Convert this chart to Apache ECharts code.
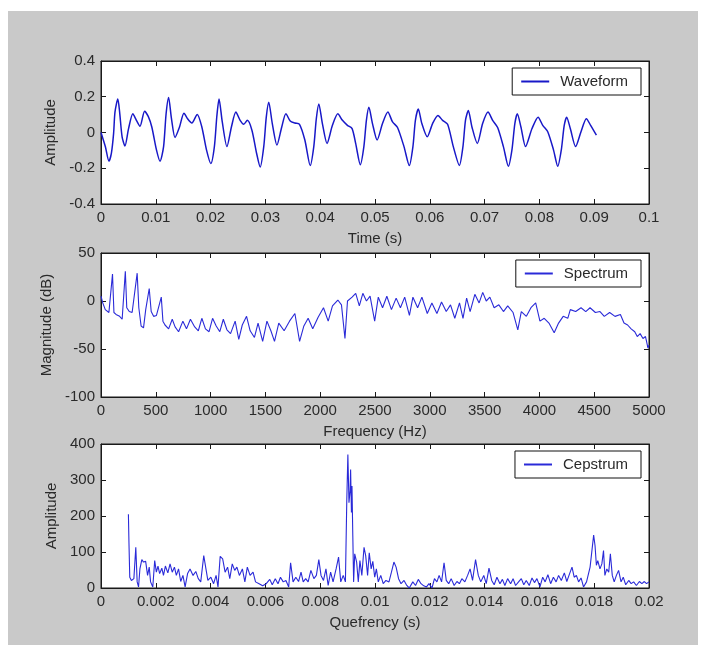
<!DOCTYPE html>
<html>
<head>
<meta charset="utf-8">
<script src="https://cdn.jsdelivr.net/npm/echarts@6/dist/echarts.min.js"></script>
<style>
  html, body { margin: 0; padding: 0; background: #ffffff; }
  #wrap { position: relative; width: 705px; height: 652px; background: #ffffff; overflow: hidden; }
  #panel { position: absolute; left: 8px; top: 11px; width: 690px; height: 634px; background: #c9c9c9; }
  #chart { position: absolute; left: 0; top: 0; width: 705px; height: 652px; }
</style>
</head>
<body>
<div id="wrap"><div id="panel"></div><div id="chart"></div></div>
<script>
// ---- Waveform (time in s, amplitude) ----
const waveTime = [
  0, 0.0008, 0.00144, 0.0019, 0.0023, 0.00255, 0.00307, 0.0034, 0.00385, 0.00437,
  0.00503, 0.00581, 0.00646, 0.00711, 0.00796, 0.00862, 0.00927, 0.01012, 0.01077, 0.01142,
  0.01188, 0.01234, 0.01286, 0.01351, 0.0143, 0.01514, 0.0158, 0.01658, 0.01756, 0.0184,
  0.01925, 0.02004, 0.02069, 0.02115, 0.02154, 0.02213, 0.02298, 0.02383, 0.02461, 0.02539,
  0.02604, 0.0267, 0.02754, 0.02839, 0.02905, 0.0297, 0.03016, 0.03061, 0.03126, 0.03211,
  0.03296, 0.03374, 0.03453, 0.03538, 0.03622, 0.0372, 0.03818, 0.03883, 0.03929, 0.03975,
  0.0404, 0.04125, 0.04223, 0.04321, 0.04406, 0.04497, 0.04582, 0.04647, 0.04732, 0.04797,
  0.04843, 0.04889, 0.04954, 0.05039, 0.05137, 0.05235, 0.0532, 0.05411, 0.05529, 0.05626,
  0.05692, 0.05737, 0.0579, 0.05855, 0.05953, 0.06051, 0.06149, 0.06233, 0.06325, 0.06429,
  0.0654, 0.06605, 0.06651, 0.06703, 0.06769, 0.06867, 0.06964, 0.07062, 0.07147, 0.07238,
  0.07343, 0.07434, 0.07499, 0.07552, 0.07597, 0.07663, 0.07747, 0.07865, 0.07976, 0.08061,
  0.08152, 0.08257, 0.08335, 0.084, 0.08453, 0.08498, 0.08564, 0.08661, 0.08759, 0.08857,
  0.08935, 0.0904
];
const waveAmp = [
  0, -0.08, -0.16, -0.115, -0.005, 0.114, 0.187, 0.114, -0.024, -0.075,
  0.022, 0.105, 0.068, 0.035, 0.119, 0.09, 0.031, -0.097, -0.161, -0.079,
  0.105, 0.196, 0.077, -0.028, 0.028, 0.108, 0.077, 0.053, 0.101, 0.031,
  -0.097, -0.174, -0.079, 0.095, 0.187, 0.059, -0.079, 0.035, 0.114, 0.068,
  0.046, 0.068, 0.013, -0.116, -0.193, -0.079, 0.086, 0.169, 0.05, -0.07,
  0.028, 0.105, 0.064, 0.053, 0.046, -0.042, -0.185, -0.079, 0.077, 0.16,
  0.05, -0.061, 0.04, 0.105, 0.068, 0.04, 0.022, -0.061, -0.18, -0.079,
  0.068, 0.141, 0.05, -0.042, 0.05, 0.114, 0.059, 0.028, -0.079, -0.185,
  -0.079, 0.068, 0.132, 0.05, -0.024, 0.05, 0.095, 0.068, 0.046, -0.079,
  -0.184, -0.079, 0.068, 0.123, 0.031, -0.061, 0.05, 0.114, 0.068, 0.028,
  -0.079, -0.189, -0.097, 0.05, 0.105, 0.031, -0.079, 0.022, 0.086, 0.04,
  0.004, -0.097, -0.189, -0.097, 0.04, 0.086, 0.022, -0.079, 0.004, 0.077,
  0.04, -0.015
];

// ---- Spectrum (frequency in Hz, magnitude in dB) ----
const specFreq = [
  0, 16, 39, 72, 105, 118, 137, 170, 193, 222,
  235, 258, 284, 330, 345, 366, 388, 408, 440, 458,
  480, 506, 550, 565, 584, 617, 650, 676, 708, 747,
  780, 816, 855, 888, 920, 953, 986, 1018, 1051, 1084,
  1116, 1149, 1182, 1224, 1257, 1289, 1328, 1361, 1400, 1433,
  1475, 1514, 1550, 1583, 1622, 1671, 1720, 1769, 1812, 1851,
  1890, 1932, 1981, 2030, 2073, 2112, 2161, 2194, 2226, 2249,
  2291, 2324, 2357, 2389, 2422, 2455, 2497, 2530, 2569, 2608,
  2650, 2693, 2732, 2771, 2814, 2846, 2889, 2928, 2977, 3019,
  3065, 3107, 3150, 3189, 3228, 3271, 3303, 3336, 3368, 3411,
  3450, 3483, 3515, 3548, 3587, 3630, 3672, 3711, 3760, 3803,
  3835, 3881, 3923, 3966, 4005, 4044, 4087, 4135, 4175, 4217,
  4259, 4282, 4331, 4380, 4423, 4462, 4511, 4553, 4592, 4641,
  4690, 4739, 4772, 4805, 4837, 4870, 4893, 4919, 4945, 4968,
  4991, 5000
];
const specDb = [
  5, -2, -9, -12, 28, -12, -14, -16, -19, 31,
  -7, -11, -12, 29, -7, -26, -28, -9, 13, -11,
  -16, -15, 4, -21, -25, -29, -19, -27, -32, -21,
  -29, -19, -27, -31, -18, -29, -32, -18, -26, -32,
  -19, -30, -34, -21, -40, -25, -16, -31, -38, -23,
  -42, -21, -31, -42, -23, -31, -21, -13, -42, -26,
  -18, -29, -17, -7, -21, -5, 1, -4, -39, 0,
  4, 8, -5, 8, 0, 5, -21, 4, -7, 5,
  -9, 3, -7, 4, -15, 4, -7, 4, -13, -2,
  -13, -1, -11, -4, -18, -2, -18, 3, -11, 7,
  -2, 9, 0, 4, -7, -4, -11, -5, -12, -30,
  -11, -16, -7, -2, -21, -18, -23, -33, -23, -16,
  -18, -9, -11, -7, -11, -7, -12, -11, -16, -12,
  -16, -14, -23, -25, -29, -32, -37, -34, -39, -37,
  -49, -46
];

// ---- Cepstrum (quefrency in s, amplitude) ----
const cepQuef = [
  0.00100, 0.00102, 0.00105, 0.00111, 0.00120, 0.00127, 0.00132, 0.00137, 0.00142, 0.00149,
  0.00155, 0.00163, 0.00170, 0.00176, 0.00181, 0.00189, 0.00196, 0.00202, 0.00208, 0.00214,
  0.00222, 0.00228, 0.00235, 0.00244, 0.00252, 0.00260, 0.00268, 0.00275, 0.00283, 0.00291,
  0.00299, 0.00307, 0.00316, 0.00325, 0.00336, 0.00346, 0.00355, 0.00364, 0.00375, 0.00383,
  0.00390, 0.00401, 0.00411, 0.00420, 0.00427, 0.00435, 0.00444, 0.00453, 0.00462, 0.00470,
  0.00479, 0.00488, 0.00496, 0.00505, 0.00516, 0.00525, 0.00534, 0.00544, 0.00555, 0.00564,
  0.00577, 0.00590, 0.00603, 0.00616, 0.00625, 0.00636, 0.00646, 0.00655, 0.00665, 0.00675,
  0.00685, 0.00692, 0.00701, 0.00711, 0.00721, 0.00730, 0.00738, 0.00747, 0.00756, 0.00766,
  0.00777, 0.00786, 0.00795, 0.00803, 0.00812, 0.00821, 0.00829, 0.00838, 0.00847, 0.00858,
  0.00867, 0.00875, 0.00884, 0.00892, 0.00897, 0.00901, 0.00905, 0.00909, 0.00911, 0.00914,
  0.00916, 0.00919, 0.00922, 0.00926, 0.00933, 0.00939, 0.00945, 0.00952, 0.00960, 0.00966,
  0.00973, 0.00979, 0.00986, 0.00992, 0.00999, 0.01005, 0.01012, 0.01021, 0.01030, 0.01040,
  0.01051, 0.01060, 0.01069, 0.01077, 0.01086, 0.01095, 0.01106, 0.01116, 0.01125, 0.01138,
  0.01148, 0.01158, 0.01168, 0.01178, 0.01188, 0.01197, 0.01208, 0.01217, 0.01226, 0.01234,
  0.01243, 0.01252, 0.01260, 0.01269, 0.01278, 0.01289, 0.01299, 0.01308, 0.01317, 0.01328,
  0.01338, 0.01347, 0.01356, 0.01367, 0.01377, 0.01386, 0.01397, 0.01406, 0.01416, 0.01426,
  0.01435, 0.01445, 0.01456, 0.01465, 0.01474, 0.01484, 0.01495, 0.01504, 0.01513, 0.01524,
  0.01534, 0.01543, 0.01552, 0.01563, 0.01573, 0.01582, 0.01591, 0.01602, 0.01612, 0.01621,
  0.01631, 0.01641, 0.01651, 0.01661, 0.01670, 0.01680, 0.01691, 0.01700, 0.01709, 0.01719,
  0.01727, 0.01735, 0.01743, 0.01752, 0.01761, 0.01772, 0.01785, 0.01791, 0.01798, 0.01803,
  0.01808, 0.01813, 0.01821, 0.01828, 0.01834, 0.01839, 0.01846, 0.01853, 0.01859, 0.01866,
  0.01873, 0.01881, 0.01889, 0.01898, 0.01906, 0.01915, 0.01926, 0.01935, 0.01944, 0.01954,
  0.01965, 0.01974, 0.01983, 0.01991, 0.02000
];
const cepAmp = [
  205, 127, 30, 21, 26, 113, 17, 3, 53, 79,
  72, 74, 35, 58, 17, 3, 76, 44, 61, 40,
  55, 35, 61, 42, 67, 44, 58, 35, 53, 18,
  35, 3, 40, 53, 35, 46, 26, 17, 90, 53,
  21, 30, 12, 35, 3, 88, 81, 44, 58, 26,
  67, 49, 58, 35, 53, 17, 58, 35, 44, 17,
  12, 6, 12, 24, 9, 26, 12, 30, 17, 21,
  3, 70, 17, 30, 18, 44, 17, 26, 17, 49,
  26, 35, 79, 35, 21, 53, 7, 44, 17, 53,
  86, 17, 35, 17, 242, 371, 237, 270, 329, 210,
  283, 145, 17, 95, 72, 17, 76, 35, 113, 90,
  35, 98, 53, 74, 30, 53, 17, 35, 12, 21,
  17, 44, 72, 58, 26, 12, 21, 7, 0, 17,
  7, 24, 12, 6, 3, 12, 0, 26, 17, 35,
  17, 70, 21, 12, 26, 7, 18, 12, 26, 17,
  35, 53, 21, 79, 35, 17, 35, 12, 55, 21,
  9, 30, 12, 24, 7, 26, 12, 26, 7, 17,
  26, 9, 21, 7, 28, 15, 26, 3, 30, 17,
  37, 12, 30, 17, 35, 21, 42, 18, 37, 58,
  30, 35, 17, 28, 3, 17, 58, 99, 147, 118,
  63, 76, 53, 67, 104, 35, 53, 44, 95, 35,
  17, 35, 49, 17, 30, 9, 21, 12, 17, 7,
  18, 12, 18, 12, 17
];

const seriesNames = ['Waveform', 'Spectrum', 'Cepstrum'];
const xNames = ['Time (s)', 'Frequency (Hz)', 'Quefrency (s)'];
const yNames = ['Amplitude', 'Magnitude (dB)', 'Amplitude'];

const FONT = 'Arial, "Liberation Sans", Helvetica, sans-serif';
const AX = '#1a1a1a';
const TXT = '#2a2a2a';
const LINES = ['#1818c8', '#2a2ad8', '#2a2ad8'];
const WIDTHS = [1.5, 1.1, 1.1];
const SMOOTH = [0.25, false, false];

function zip(a, b) { return a.map((v, i) => [v, b[i]]); }
function plainNum(v) { return String(+v.toFixed(6)); }

const gridTops = [61, 253, 444];
const gridHeights = [143, 144, 144];
const xRanges = [[0, 0.1, 0.01], [0, 5000, 500], [0, 0.02, 0.002]];
const yRanges = [[-0.4, 0.4, 0.2], [-100, 50, 50], [0, 400, 100]];

const grid = [], xAxis = [], yAxis = [], legend = [];
for (let i = 0; i < 3; i++) {
  grid.push({ left: 101, right: 56, top: gridTops[i], height: gridHeights[i],
    show: true, backgroundColor: '#ffffff', borderColor: AX, borderWidth: 1 });
  const tick = { show: true, inside: true, length: 5, lineStyle: { color: AX, width: 1 } };
  const line = { show: true, onZero: false, lineStyle: { color: AX, width: 1 } };
  xAxis.push({ type: 'value', gridIndex: i, position: 'bottom',
    min: xRanges[i][0], max: xRanges[i][1], interval: xRanges[i][2],
    name: xNames[i], nameLocation: 'middle', nameGap: 27,
    nameTextStyle: { fontSize: 15, color: TXT, fontFamily: FONT },
    axisLine: line, axisTick: tick, splitLine: { show: false },
    axisLabel: { fontSize: 15, color: TXT, fontFamily: FONT, margin: 6,
      showMinLabel: true, showMaxLabel: true, formatter: plainNum } });
  xAxis.push({ type: 'value', gridIndex: i, position: 'top',
    min: xRanges[i][0], max: xRanges[i][1], interval: xRanges[i][2],
    axisLine: line, axisTick: tick, splitLine: { show: false }, axisLabel: { show: false } });
  yAxis.push({ type: 'value', gridIndex: i, position: 'left',
    min: yRanges[i][0], max: yRanges[i][1], interval: yRanges[i][2],
    name: yNames[i], nameLocation: 'middle', nameGap: 41,
    nameTextStyle: { fontSize: 15, color: TXT, fontFamily: FONT },
    axisLine: line, axisTick: tick, splitLine: { show: false },
    axisLabel: { fontSize: 15, color: TXT, fontFamily: FONT, margin: 6,
      showMinLabel: true, showMaxLabel: true, formatter: plainNum } });
  yAxis.push({ type: 'value', gridIndex: i, position: 'right',
    min: yRanges[i][0], max: yRanges[i][1], interval: yRanges[i][2],
    axisLine: line, axisTick: tick, splitLine: { show: false }, axisLabel: { show: false } });
  legend.push({ data: [{ name: seriesNames[i], icon: 'rect' }], right: 64, top: gridTops[i] + 7,
    orient: 'horizontal', selectedMode: false, backgroundColor: '#ffffff',
    borderColor: '#111111', borderWidth: 1, borderRadius: 0, padding: [6, 13, 6, 9],
    itemWidth: 28, itemHeight: 2,
    textStyle: { fontSize: 15, color: TXT, fontFamily: FONT, padding: [0, 0, 0, 6] } });
}

const dataSets = [zip(waveTime, waveAmp), zip(specFreq, specDb), zip(cepQuef, cepAmp)];
const series = dataSets.map((d, i) => ({
  name: seriesNames[i], type: 'line', xAxisIndex: i * 2, yAxisIndex: i * 2,
  data: d, showSymbol: false, symbol: 'none', clip: true, animation: false,
  smooth: SMOOTH[i],
  lineStyle: { color: LINES[i], width: WIDTHS[i] }, itemStyle: { color: LINES[i] }
}));

const chart = echarts.init(document.getElementById('chart'), null, { renderer: 'canvas' });
chart.setOption({
  backgroundColor: 'transparent', animation: false,
  textStyle: { fontFamily: FONT },
  grid, xAxis, yAxis, legend, series
});
</script>
</body>
</html>
